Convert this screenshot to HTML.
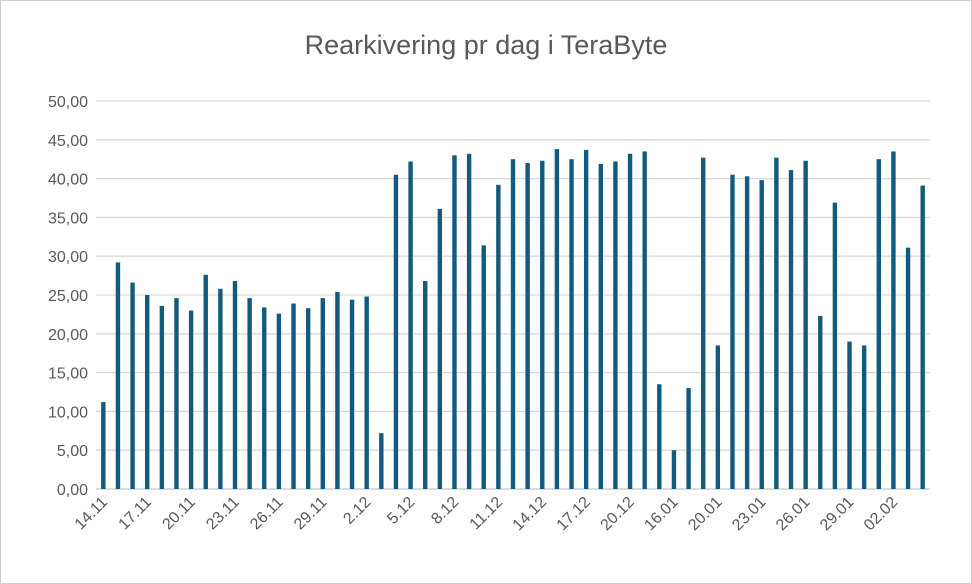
<!DOCTYPE html>
<html><head><meta charset="utf-8"><style>
body{margin:0;background:#fff;}
svg{display:block;font-family:"Liberation Sans",sans-serif;}
</style></head><body>
<svg id="chart" width="972" height="584">
<rect x="0.5" y="0.5" width="971" height="583" fill="#fff" stroke="#d0d0d0"/>
<text x="486" y="54" text-anchor="middle" font-size="27" fill="#595959">Rearkivering pr dag i TeraByte</text>
<g id="grid"></g><g id="bars"></g><g id="ylabels"></g><g id="xlabels"></g>
</svg>
<script>
const categories=["14.11","","","17.11","","","20.11","","","23.11","","","26.11","","","29.11","","","2.12","","","5.12","","","8.12","","","11.12","","","14.12","","","17.12","","","20.12","","","16.01","","","20.01","","","23.01","","","26.01","","","29.01","","","02.02","",""];
const values=[11.2,29.2,26.6,25.0,23.6,24.6,23.0,27.6,25.8,26.8,24.6,23.4,22.6,23.9,23.3,24.6,25.4,24.4,24.8,7.2,40.5,42.2,26.8,36.1,43.0,43.2,31.4,39.2,42.5,42.0,42.3,43.8,42.5,43.7,41.9,42.2,43.2,43.5,13.5,5.0,13.0,42.7,18.5,40.5,40.3,39.8,42.7,41.1,42.3,22.3,36.9,19.0,18.5,42.5,43.5,31.1,39.1];
const yTicks=[0,5,10,15,20,25,30,35,40,45,50];
const NS="http://www.w3.org/2000/svg";
const X0=96,X1=930,Y0=489,Y1=101,YMAX=50;
const band=(X1-X0)/categories.length;
const y=v=>Y0-(v/YMAX)*(Y0-Y1);
const xc=i=>X0+band*(i+0.5);
const grid=document.getElementById('grid'),bars=document.getElementById('bars'),yl=document.getElementById('ylabels'),xl=document.getElementById('xlabels');
yTicks.forEach(t=>{
 const l=document.createElementNS(NS,'line');
 l.setAttribute('x1',X0);l.setAttribute('x2',X1);l.setAttribute('y1',y(t));l.setAttribute('y2',y(t));
 l.setAttribute('stroke',t===0?'#c8c8c8':'#d9d9d9');l.setAttribute('stroke-width','1.3');
 
 
 grid.appendChild(l);
 const tx=document.createElementNS(NS,'text');
 tx.setAttribute('x',88);tx.setAttribute('y',y(t)+6);tx.setAttribute('text-anchor','end');
 tx.setAttribute('font-size','16');tx.setAttribute('fill','#595959');
 tx.textContent=t.toFixed(2).replace('.',',');
 
 
 yl.appendChild(tx);
});
values.forEach((v,i)=>{
 const r=document.createElementNS(NS,'rect');
 r.setAttribute('x',xc(i)-2.2);r.setAttribute('width',4.4);
 r.setAttribute('y',y(v));r.setAttribute('height',Y0-y(v));
 r.setAttribute('fill','#125a7e');
 
 
 bars.appendChild(r);
});
categories.forEach((c,i)=>{
 if(!c)return;
 const tx=document.createElementNS(NS,'text');
 const px=xc(i)+5,py=503;
 tx.setAttribute('x',px);tx.setAttribute('y',py);tx.setAttribute('text-anchor','end');
 tx.setAttribute('font-size','16');tx.setAttribute('fill','#595959');
 tx.setAttribute('transform','rotate(-45 '+px+' '+py+')');
 tx.textContent=c;
 
 
 xl.appendChild(tx);
});
</script>
</body></html>
